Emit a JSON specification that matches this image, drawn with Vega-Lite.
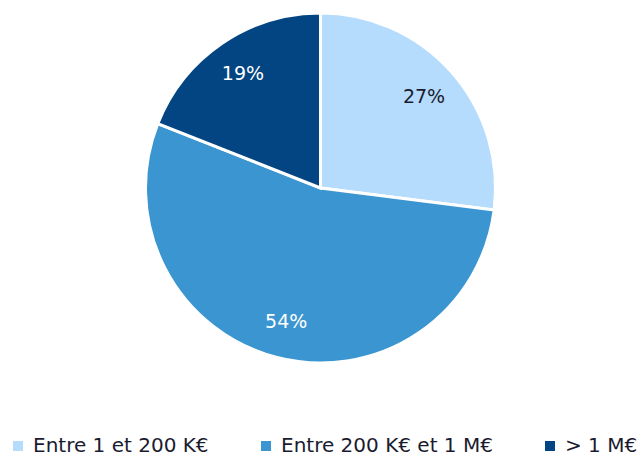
{
  "$schema": "https://vega.github.io/schema/vega-lite/v6.json",
  "width": 641,
  "height": 376,
  "padding": 0,
  "autosize": {"type": "pad"},
  "background": "white",
  "data": {"values": [
    {"cat": "Entre 1 et 200 K€", "value": 27, "label": "27%", "order": 1},
    {"cat": "Entre 200 K€ et 1 M€", "value": 54, "label": "54%", "order": 2},
    {"cat": "> 1 M€", "value": 19, "label": "19%", "order": 3}
  ]},
  "encoding": {
    "theta": {"field": "value", "type": "quantitative", "stack": true},
    "order": {"field": "order", "type": "quantitative"},
    "color": {
      "field": "cat", "type": "nominal",
      "scale": {"domain": ["Entre 1 et 200 K€", "Entre 200 K€ et 1 M€", "> 1 M€"], "range": ["#b5dcfd", "#3a95d1", "#034482"]},
      "legend": {
        "title": null, "orient": "none", "legendX": 8, "legendY": 436, "direction": "horizontal",
        "symbolType": "square", "symbolSize": 100, "symbolStrokeWidth": 0,
        "labelFontSize": 20, "labelFont": "DejaVu Sans", "labelColor": "#1b1b2f",
        "columnPadding": 47, "labelOffset": 5, "labelLimit": 400
      }
    }
  },
  "layer": [
    {"mark": {"type": "arc", "outerRadius": 175, "stroke": "white", "strokeWidth": 3}},
    {"mark": {"type": "text", "radius": 138, "fontSize": 19, "font": "DejaVu Sans"},
     "encoding": {
       "text": {"field": "label"},
       "color": {"condition": {"test": "datum.order === 1", "value": "#1b1b2f"}, "value": "white"}
     }}
  ],
  "config": {"view": {"stroke": null}}
}
